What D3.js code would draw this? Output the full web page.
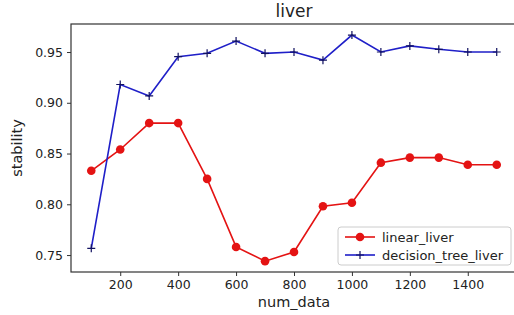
<!DOCTYPE html>
<html>
<head>
<meta charset="utf-8">
<script src="https://cdn.jsdelivr.net/npm/d3@7"></script>
<style>
  body { margin: 0; background: #fff; }
  svg { display: block; font-family: 'DejaVu Sans', sans-serif; }
</style>
</head>
<body>
<div id="app"></div>
<script>
const numData = [100, 200, 300, 400, 500, 600, 700, 800, 900, 1000, 1100, 1200, 1300, 1400, 1500]
const linearLiver = [0.833, 0.854, 0.880, 0.880, 0.825, 0.758, 0.744, 0.753, 0.798, 0.8015, 0.841, 0.846, 0.846, 0.839, 0.839]
const treeLiver = [0.7566, 0.918, 0.9067, 0.9454, 0.9487, 0.9608, 0.9487, 0.950, 0.942, 0.9667, 0.950, 0.956, 0.9527, 0.950, 0.950]
const xTicks = [200, 400, 600, 800, 1000, 1200, 1400]
const yTicks = [0.75, 0.80, 0.85, 0.90, 0.95]

const config = {
  width: 514,
  height: 315,
  left: 71,
  right: 517,
  top: 24,
  bottom: 272,
  red: '#e41313',
  blue: '#1f1fc8',
}

const draw = () => {
  const svg = d3
    .select('#app')
    .append('svg')
    .attr('width', config.width)
    .attr('height', config.height)

  const x = d3.scaleLinear().domain([30, 1570]).range([config.left, config.right])
  const y = d3.scaleLinear().domain([0.7333, 0.9776]).range([config.bottom, config.top])

  // frame
  svg.append('rect')
    .attr('x', config.left).attr('y', config.top)
    .attr('width', config.right - config.left)
    .attr('height', config.bottom - config.top)
    .attr('fill', 'none').attr('stroke', '#333').attr('stroke-width', 1.2)

  const xAxis = svg.append('g')
    .attr('transform', `translate(0,${config.bottom})`)
    .call(d3.axisBottom(x).tickValues(xTicks).tickFormat(d3.format('d')).tickSize(4).tickSizeOuter(0).tickPadding(4))
  const yAxis = svg.append('g')
    .attr('transform', `translate(${config.left},0)`)
    .call(d3.axisLeft(y).tickValues(yTicks).tickFormat(d3.format('.2f')).tickSize(4).tickSizeOuter(0).tickPadding(4))
  for (const ax of [xAxis, yAxis]) {
    ax.select('.domain').remove()
    ax.selectAll('line').attr('stroke', '#333')
    ax.selectAll('text').attr('font-size', 12.5).attr('fill', '#222').attr('font-family', 'DejaVu Sans')
  }

  const line = d3.line().x((d, i) => x(numData[i])).y((d) => y(d))

  svg.append('path').datum(linearLiver)
    .attr('d', line).attr('fill', 'none')
    .attr('stroke', config.red).attr('stroke-width', 1.6)
  svg.append('g').selectAll('circle').data(linearLiver).join('circle')
    .attr('cx', (d, i) => x(numData[i])).attr('cy', (d) => y(d))
    .attr('r', 4.3).attr('fill', config.red)

  svg.append('path').datum(treeLiver)
    .attr('d', line).attr('fill', 'none')
    .attr('stroke', config.blue).attr('stroke-width', 1.6)
  svg.append('g').selectAll('path').data(treeLiver).join('path')
    .attr('d', (d, i) => {
      const cx = x(numData[i]), cy = y(d)
      return `M${cx - 4},${cy}H${cx + 4}M${cx},${cy - 4}V${cy + 4}`
    })
    .attr('stroke', '#111160').attr('stroke-width', 1.2)

  // title & labels
  svg.append('text').attr('x', (config.left + config.right) / 2).attr('y', 17)
    .attr('text-anchor', 'middle').attr('font-size', 17).attr('fill', '#222').text('liver')
  svg.append('text').attr('x', (config.left + config.right) / 2).attr('y', 307)
    .attr('text-anchor', 'middle').attr('font-size', 14.5).attr('fill', '#222').text('num_data')
  svg.append('text').attr('transform', `translate(22,${(config.top + config.bottom) / 2}) rotate(-90)`)
    .attr('text-anchor', 'middle').attr('font-size', 14.5).attr('fill', '#222').text('stability')

  // legend
  const legend = svg.append('g')
  legend.append('rect').attr('x', 338).attr('y', 227).attr('width', 173).attr('height', 38)
    .attr('rx', 3).attr('fill', '#fff').attr('fill-opacity', 0.85).attr('stroke', '#ccc')
  const items = [
    {name: 'linear_liver', color: config.red, marker: 'circle'},
    {name: 'decision_tree_liver', color: config.blue, marker: 'plus'},
  ]
  items.forEach((it, i) => {
    const ly = 237 + i * 18
    legend.append('line').attr('x1', 345).attr('x2', 375).attr('y1', ly).attr('y2', ly)
      .attr('stroke', it.color).attr('stroke-width', 1.6)
    if (it.marker === 'circle') {
      legend.append('circle').attr('cx', 360).attr('cy', ly).attr('r', 4.3).attr('fill', it.color)
    } else {
      legend.append('path').attr('d', `M356,${ly}H364M360,${ly - 4}V${ly + 4}`)
        .attr('stroke', '#111160').attr('stroke-width', 1.2)
    }
    legend.append('text').attr('x', 382).attr('y', ly).attr('dy', '0.35em')
      .attr('font-size', 13).attr('fill', '#222').text(it.name)
  })
}
draw()
</script>
</body>
</html>
